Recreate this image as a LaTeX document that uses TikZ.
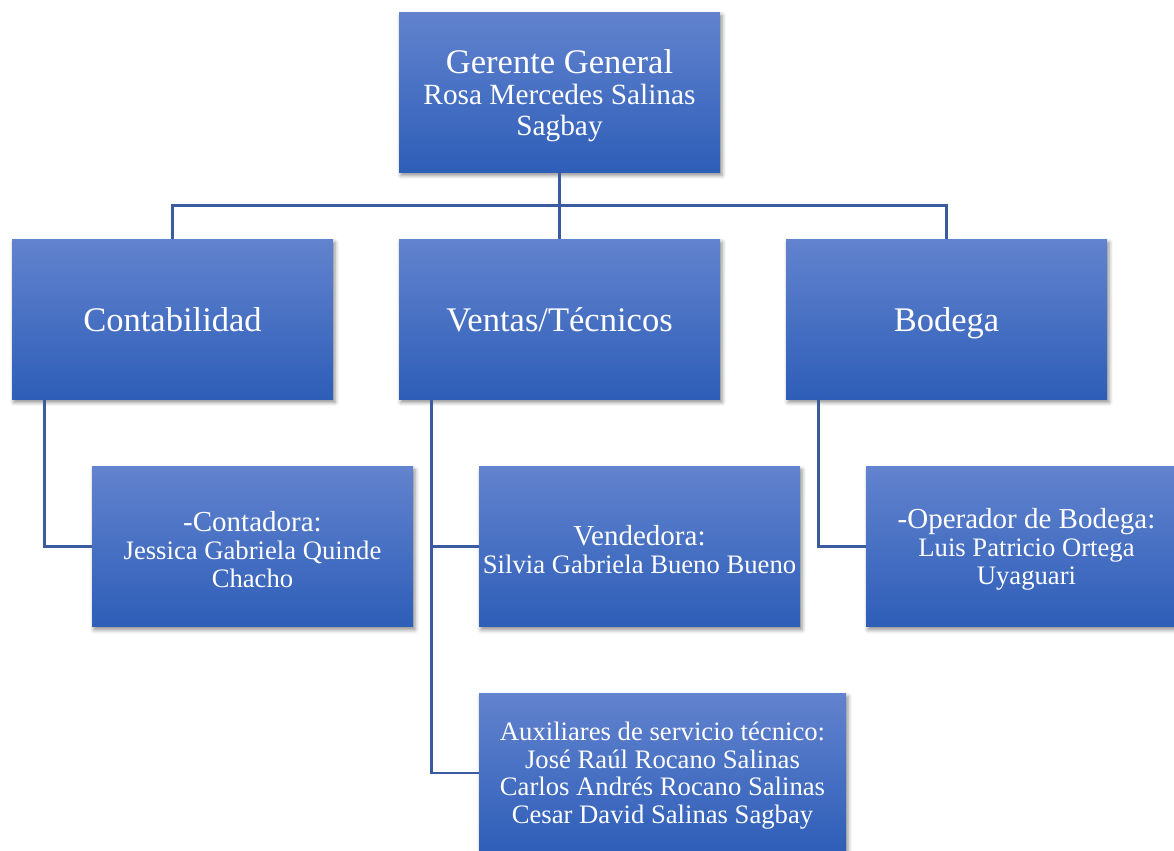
\documentclass[tikz,border=0pt]{standalone}
\usepackage{fontspec}
\setmainfont{Liberation Serif}
\usetikzlibrary{shadows.blur}
\definecolor{boxtop}{RGB}{98,131,206}
\definecolor{boxbot}{RGB}{46,94,184}
\definecolor{linec}{RGB}{58,91,160}
\tikzset{
  orgbox/.style={draw=none, top color=boxtop, bottom color=boxbot, text=white,
    minimum width=240.75pt, minimum height=120pt, inner sep=0pt, align=center,
    blur shadow={shadow xshift=1.5pt, shadow yshift=-2.5pt, shadow blur radius=3pt, shadow opacity=45}},
  widebox/.style={orgbox, minimum width=275.25pt},
  headfont/.style={font=\fontsize{25.9pt}{28pt}\selectfont, text height=18pt, text depth=0pt},
  topfont/.style={font=\fontsize{22pt}{23.25pt}\selectfont},
  childfont/.style={font=\fontsize{20pt}{21pt}\selectfont},
  auxfont/.style={font=\fontsize{20pt}{20.6pt}\selectfont},
  conn/.style={draw=linec, line width=2pt}
}
\newcommand{\firstline}[1]{{\fontsize{21.75pt}{21pt}\selectfont\rule{0pt}{19pt}#1}}
\begin{document}
\begin{tikzpicture}[x=0.75pt, y=-0.75pt]
\useasboundingbox (0,0) rectangle (1174,850);
\node[orgbox, topfont] (top) at (559.5,92) {{\fontsize{25.9pt}{23.25pt}\selectfont\rule{0pt}{23.6pt}Gerente General}\\Rosa Mercedes Salinas\\Sagbay};
\node[orgbox, headfont] (cont) at (172.5,319) {Contabilidad};
\node[orgbox, headfont] (vent) at (559.5,319) {Ventas/Técnicos};
\node[orgbox, headfont] (bod) at (946.5,319) {Bodega};
\node[orgbox, childfont] (contad) at (252.5,546.5) {\firstline{-Contadora:}\\Jessica Gabriela Quinde\\Chacho};
\node[orgbox, childfont] (vend) at (639.5,546.5) {\firstline{Vendedora:}\\Silvia Gabriela Bueno Bueno};
\node[widebox, auxfont] (aux) at (662.5,773) {\rule{0pt}{17.6pt}Auxiliares de servicio técnico:\\José Raúl Rocano Salinas\\Carlos Andrés Rocano Salinas\\Cesar David Salinas Sagbay};
\node[orgbox, childfont] (oper) at (1026.5,546.5) {\firstline{-Operador de Bodega:}\\Luis Patricio Ortega\\Uyaguari};
% connectors
\draw[conn] (cont.north) -- ++(0,-33) -| (bod.north);
\draw[conn] (top.south) -- (vent.north);
\draw[conn] (cont.south west) ++(33,0) coordinate (c1) |- (contad.west);
\draw[conn] (vent.south west) ++(33,0) coordinate (v1) |- (aux.west);
\draw[conn] (v1) |- (vend.west);
\draw[conn] (bod.south west) ++(33,0) coordinate (b1) |- (oper.west);
\end{tikzpicture}
\end{document}
